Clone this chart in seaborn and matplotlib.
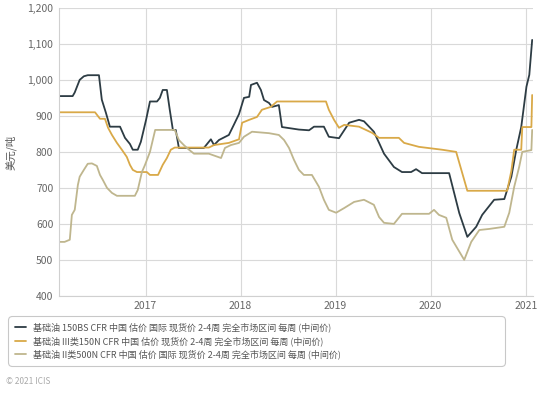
import pandas as pd
import matplotlib
matplotlib.use("Agg")
import matplotlib.pyplot as plt
import matplotlib.dates as mdates
import matplotlib.ticker as mticker
import seaborn as sns

# Base oil 150BS CFR China
bs_dates = ["2016-02-03", "2016-03-27", "2016-04-04", "2016-04-23", "2016-05-09", "2016-05-24",
            "2016-07-06", "2016-07-17", "2016-08-02", "2016-08-17", "2016-09-25", "2016-10-14",
            "2016-11-02", "2016-11-13", "2016-12-02", "2016-12-14", "2017-01-03", "2017-01-18",
            "2017-02-14", "2017-02-25", "2017-03-08", "2017-03-24", "2017-04-04", "2017-04-16",
            "2017-04-27", "2017-05-09", "2017-08-13", "2017-09-09", "2017-09-21", "2017-10-10",
            "2017-11-17", "2017-12-06", "2017-12-26", "2018-01-14", "2018-02-03", "2018-02-10",
            "2018-03-05", "2018-03-20", "2018-04-01", "2018-04-20", "2018-05-02", "2018-05-28",
            "2018-06-09", "2018-08-13", "2018-09-21", "2018-10-10", "2018-11-17", "2018-12-06",
            "2019-01-14", "2019-02-03", "2019-02-22", "2019-04-01", "2019-04-20", "2019-05-28",
            "2019-06-17", "2019-07-06", "2019-08-13", "2019-09-13", "2019-10-18", "2019-11-06",
            "2019-11-29", "2020-03-12", "2020-04-20", "2020-05-21", "2020-06-24", "2020-07-17",
            "2020-09-01", "2020-10-10", "2020-11-06", "2020-11-25", "2020-12-14", "2021-01-03",
            "2021-01-14", "2021-01-25"]
bs_values = [955, 955, 965, 1000, 1010, 1013,
             1013, 945, 908, 870, 870, 839,
             822, 806, 806, 828, 889, 940,
             940, 950, 972, 972, 917, 861,
             861, 811, 811, 835, 819, 833,
             847, 875, 905, 950, 953, 986,
             992, 972, 944, 936, 925, 930,
             869, 862, 860, 870, 870, 842,
             838, 860, 881, 889, 885, 856,
             825, 795, 758, 744, 744, 752,
             741, 741, 630, 564, 592, 625,
             667, 669, 731, 806, 869, 981,
             1014, 1111]

# Base oil group III 150N
n150_dates = ["2016-02-03", "2016-06-21", "2016-07-10", "2016-07-29", "2016-08-10", "2016-08-25",
              "2016-09-13", "2016-10-02", "2016-10-21", "2016-11-02", "2016-11-13", "2016-11-29",
              "2017-01-06", "2017-01-18", "2017-02-18", "2017-03-08", "2017-03-24", "2017-04-08",
              "2017-04-23", "2017-09-01", "2017-09-21", "2017-11-17", "2017-12-26", "2018-01-07",
              "2018-02-03", "2018-03-05", "2018-03-24", "2018-04-27", "2018-05-21", "2018-11-25",
              "2018-12-06", "2018-12-26", "2019-01-14", "2019-02-03", "2019-04-01", "2019-05-21",
              "2019-06-17", "2019-09-01", "2019-09-21", "2019-11-17", "2020-02-14", "2020-04-08",
              "2020-05-21", "2020-10-21", "2020-11-06", "2020-11-17", "2020-12-14", "2020-12-18",
              "2021-01-22", "2021-01-25"]
n150_values = [910, 910, 892, 892, 867, 847,
               825, 806, 786, 764, 750, 744,
               744, 736, 736, 764, 783, 806,
               812, 812, 819, 825, 835, 881,
               889, 897, 917, 925, 940, 940,
               917, 889, 867, 875, 870, 853,
               839, 839, 825, 814, 806, 800,
               692, 692, 747, 806, 806, 869,
               869, 958]

# Base oil group II 500N
n500_dates = ["2016-02-03", "2016-02-25", "2016-03-16", "2016-03-24", "2016-04-04", "2016-04-16",
              "2016-04-23", "2016-05-09", "2016-05-24", "2016-06-09", "2016-06-28", "2016-07-10",
              "2016-07-21", "2016-08-06", "2016-08-25", "2016-09-13", "2016-11-21", "2016-12-02",
              "2016-12-18", "2016-12-30", "2017-01-18", "2017-02-07", "2017-04-23", "2017-05-09",
              "2017-05-28", "2017-06-17", "2017-07-06", "2017-09-01", "2017-10-18", "2017-11-02",
              "2017-11-25", "2017-12-26", "2018-01-14", "2018-02-14", "2018-04-20", "2018-05-28",
              "2018-06-17", "2018-07-06", "2018-07-25", "2018-08-13", "2018-09-01", "2018-10-02",
              "2018-10-29", "2018-11-17", "2018-12-06", "2019-01-03", "2019-02-03", "2019-03-13",
              "2019-04-20", "2019-05-28", "2019-06-17", "2019-07-06", "2019-08-13", "2019-09-13",
              "2019-12-26", "2020-01-14", "2020-02-02", "2020-03-01", "2020-03-24", "2020-05-09",
              "2020-06-05", "2020-07-06", "2020-08-13", "2020-10-10", "2020-10-29", "2020-11-17",
              "2020-12-06", "2020-12-18", "2021-01-22", "2021-01-25"]
n500_values = [550, 550, 556, 625, 639, 708,
               731, 750, 767, 768, 761, 736,
               722, 700, 686, 678, 678, 694,
               744, 764, 800, 861, 861, 833,
               819, 806, 795, 795, 783, 811,
               819, 825, 842, 856, 852, 847,
               833, 811, 778, 750, 736, 736,
               703, 667, 639, 631, 644, 661,
               667, 653, 619, 603, 600, 628,
               628, 639, 625, 617, 556, 500,
               550, 583, 586, 592, 631, 703,
               758, 800, 805, 861]

labels = ["基础油 150BS CFR 中国 估价 国际 现货价 2-4周 完全市场区间 每周 (中间价)",
          "基础油 III类150N CFR 中国 估价 现货价 2-4周 完全市场区间 每周 (中间价)",
          "基础油 II类500N CFR 中国 估价 国际 现货价 2-4周 完全市场区间 每周 (中间价)"]
colors = ["#2d3c44", "#d9a948", "#bfb68e"]
y_ticks = [400, 500, 600, 700, 800, 900, 1000, 1100, 1200]
x_ticks = ["2017-01-01", "2018-01-01", "2019-01-01", "2020-01-01", "2021-01-01"]

sns.set_style("whitegrid")
plt.rcParams["font.family"] = ["Noto Sans CJK SC", "DejaVu Sans"]

fig = plt.figure(figsize=(5.5, 3.94), dpi=100)
ax = fig.add_axes([0.107, 0.249, 0.862, 0.731])

series = [(bs_dates, bs_values), (n150_dates, n150_values), (n500_dates, n500_values)]
for (d, v), lab, c in zip(series, labels, colors):
    df = pd.DataFrame({"date": pd.to_datetime(d), "value": v})
    sns.lineplot(data=df, x="date", y="value", ax=ax, color=c, linewidth=1.3, label=lab)

ax.set_xlim(pd.Timestamp("2016-02-03"), pd.Timestamp("2021-01-28"))
ax.set_ylim(400, 1200)
ax.set_yticks(y_ticks)
ax.yaxis.set_major_formatter(mticker.FuncFormatter(lambda v, p: f"{int(v):,}"))
ax.set_xticks(pd.to_datetime(x_ticks))
ax.xaxis.set_major_formatter(mdates.DateFormatter("%Y"))
ax.grid(True, color="#d9d9d9", linewidth=0.8)
for s in ["top", "right"]:
    ax.spines[s].set_visible(False)
for s in ["left", "bottom"]:
    ax.spines[s].set_color("#d0d0d0")
    ax.spines[s].set_linewidth(0.8)
ax.tick_params(axis="both", colors="#666666", labelsize=7.5, length=0, pad=4)
ax.set_xlabel("")
ax.set_ylabel("美元/吨", fontsize=7.5, color="#555555", labelpad=8)

leg = ax.legend(loc="upper left", bbox_to_anchor=(-0.113, -0.07, 1.06, 0.01),
                mode="expand", fontsize=6.5, frameon=True, handlelength=1.2,
                labelspacing=0.4, borderpad=0.55)
leg.get_frame().set_edgecolor("#bbbbbb")
leg.get_frame().set_linewidth(0.8)
leg.get_frame().set_boxstyle("round,pad=0.2,rounding_size=0.5")
for t in leg.get_texts():
    t.set_color("#555555")

fig.text(0.01, 0.025, "© 2021 ICIS", fontsize=6, color="#aaaaaa")

fig.savefig("out.png", dpi=100)
